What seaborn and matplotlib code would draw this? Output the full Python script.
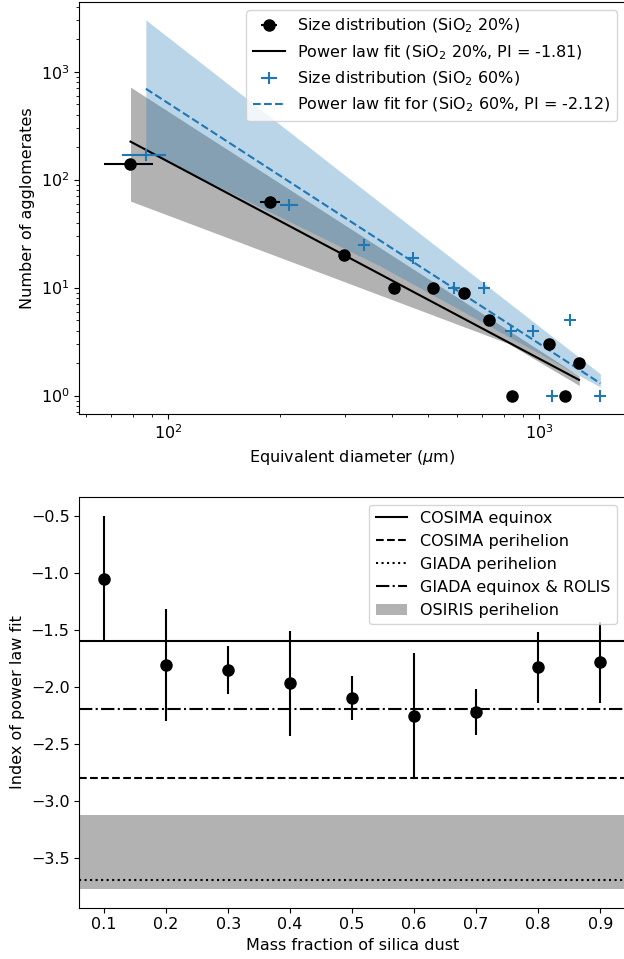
import numpy as np
import matplotlib
matplotlib.use("Agg")
import matplotlib.pyplot as plt
import seaborn as sns

plt.rcParams['font.size'] = 11.5

# size distributions (top panel)
d20 = [79, 188, 297, 406, 515, 625, 733, 843, 1059, 1172, 1278]
n20 = [141, 62, 20, 10, 10, 9, 5, 1, 3, 1, 2]
d20_lo = [67, 177, 297, 406, 515, 625, 733, 843, 1059, 1172, 1278]
d20_hi = [90.7, 200, 297, 406, 515, 625, 733, 843, 1059, 1172, 1278]

d60 = [86.9, 211, 337, 455, 587, 710, 836, 959, 1211, 1082, 1459]
n60 = [168, 58, 25, 19, 10, 10, 4, 4, 5, 1, 1]
d60_lo = [74.8, 200, 337, 455, 587, 710, 836, 959, 1211, 1082, 1459]
d60_hi = [98.6, 223, 337, 455, 587, 710, 836, 959, 1211, 1082, 1459]

# power law fits and their bands
fit20_x = [79, 1278]
fit20_y = [225, 1.40]
band20_x = [79, 822, 1280]
band20_lo = [63.3, 3.05, 1.24]
band20_hi = [719, 4.06, 1.52]

fit60_x = [86.9, 1459]
fit60_y = [695, 1.30]
band60_x = [86.9, 373, 1459]
band60_lo = [184, 15.8, 1.20]
band60_hi = [3015, 60.8, 1.59]

# power law index vs silica fraction (bottom panel)
frac = [0.1, 0.2, 0.3, 0.4, 0.5, 0.6, 0.7, 0.8, 0.9]
pli = [-1.055, -1.81, -1.856, -1.971, -2.10, -2.255, -2.224, -1.832, -1.785]
pli_err = [0.555, 0.495, 0.21, 0.46, 0.19, 0.55, 0.20, 0.31, 0.355]

cosima_eq = -1.6
cosima_peri = -2.8
giada_peri = -3.7
giada_eq = -2.2
osiris = [-3.776, -3.126]

fig = plt.figure(figsize=(6.24, 9.59), dpi=100)
ax1 = fig.add_axes([0.1271, 0.5686, 0.8745, 0.4288])
ax2 = fig.add_axes([0.1271, 0.0535, 0.8745, 0.4286])

# --- top panel
ax1.set_xscale("log")
ax1.set_yscale("log")
ax1.fill_between(band20_x, band20_lo, band20_hi, color="k", alpha=0.3, lw=0)
ax1.fill_between(band60_x, band60_lo, band60_hi, color="C0", alpha=0.3, lw=0)

e20 = ax1.errorbar(d20, n20,
                   xerr=[np.array(d20) - np.array(d20_lo), np.array(d20_hi) - np.array(d20)],
                   fmt="o", color="k", ms=8, elinewidth=1.5, zorder=4,
                   label="Size distribution (SiO$_2$ 20%)")
sns.lineplot(x=fit20_x, y=fit20_y, ax=ax1, color="k", lw=1.5,
             label="Power law fit (SiO$_2$ 20%, PI = -1.81)")
e60 = ax1.errorbar(d60, n60,
                   xerr=[np.array(d60) - np.array(d60_lo), np.array(d60_hi) - np.array(d60)],
                   fmt="+", color="C0", ms=9, mew=1.5, elinewidth=1.5, zorder=4,
                   label="Size distribution (SiO$_2$ 60%)")
sns.lineplot(x=fit60_x, y=fit60_y, ax=ax1, color="C0", lw=1.5, linestyle="--",
             label="Power law fit for (SiO$_2$ 60%, PI = -2.12)")

h, l = ax1.get_legend_handles_labels()
order = ["Size distribution (SiO$_2$ 20%)", "Power law fit (SiO$_2$ 20%, PI = -1.81)",
         "Size distribution (SiO$_2$ 60%)", "Power law fit for (SiO$_2$ 60%, PI = -2.12)"]
hd = dict(zip(l, h))
ax1.legend([hd[k] for k in order], order, loc="upper right")
ax1.set_xlim(57.5, 1700)
ax1.set_ylim(0.68, 4370)
ax1.set_xlabel("Equivalent diameter ($\\mu$m)")
ax1.set_ylabel("Number of agglomerates")

# --- bottom panel
ax2.axhline(cosima_eq, color="k", lw=1.5, ls="-", label="COSIMA equinox")
ax2.axhline(cosima_peri, color="k", lw=1.5, ls="--", label="COSIMA perihelion")
ax2.axhline(giada_peri, color="k", lw=1.5, ls=":", label="GIADA perihelion")
ax2.axhline(giada_eq, color="k", lw=1.5, ls="-.", label="GIADA equinox & ROLIS")
ax2.axhspan(osiris[0], osiris[1], color="k", alpha=0.3, lw=0, label="OSIRIS perihelion")
ax2.errorbar(frac, pli, yerr=pli_err, fmt="o", color="k", ms=8, elinewidth=1.5, zorder=4)
ax2.legend(loc="upper right")
ax2.set_xlim(0.06, 0.94)
ax2.set_ylim(-3.94, -0.333)
ax2.set_xticks(frac)
ax2.set_xlabel("Mass fraction of silica dust")
ax2.set_ylabel("Index of power law fit")

fig.savefig("out.png", dpi=100)
